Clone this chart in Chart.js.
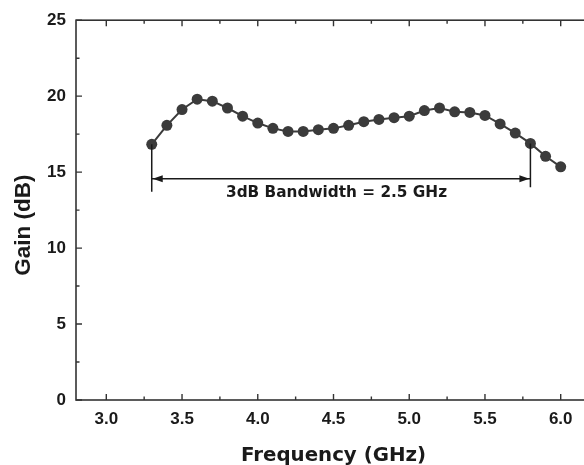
<!DOCTYPE html>
<html><head><meta charset="utf-8">
<script src="https://cdn.jsdelivr.net/npm/chart.js@4/dist/chart.umd.min.js"></script>
<style>
html,body{margin:0;padding:0;overflow:hidden;background:#fff;width:584px;height:465px}
#wrap{position:absolute;left:0;top:0;width:600px;height:475px}
canvas{display:block}
</style></head>
<body><div id="wrap"><canvas id="c" width="600" height="475"></canvas></div>
<script>
// ---- data ----
const frequencies = [3.3,3.4,3.5,3.6,3.7,3.8,3.9,4.0,4.1,4.2,4.3,4.4,4.5,4.6,4.7,4.8,4.9,5.0,5.1,5.2,5.3,5.4,5.5,5.6,5.7,5.8,5.9,6.0];
const gainDb      = [16.83,18.08,19.12,19.8,19.67,19.22,18.68,18.23,17.88,17.68,17.68,17.79,17.88,18.08,18.32,18.47,18.58,18.68,19.05,19.22,18.97,18.93,18.73,18.17,17.57,16.89,16.04,15.35];
const xTicks = [3.0,3.5,4.0,4.5,5.0,5.5,6.0];
const xMinorTicks = [3.25,3.75,4.25,4.75,5.25,5.75];
const yTicks = [0,5,10,15,20,25];
const yMinorTicks = [2.5,7.5,12.5,17.5,22.5];
const bandEdges = [3.3, 5.8];          // GHz, start / end of 3 dB band
const bandEdgePoints = [16.83, 16.89]; // gain at the band edges
const bandLineBottom = [13.7, 14.0];   // where the edge markers end
const bandArrowLevel = [14.56];
const bandLabel = ["3dB Bandwidth = 2.5 GHz"];
const bandLabelPos = [4.52, 13.6];
const xTitle = "Frequency (GHz)";
const yTitle = "Gain (dB)";

const INK = '#333333';
const TICKFONT = {family:'"Liberation Sans", Arial, sans-serif', size:17, weight:'bold'};

const framePlugin = {
  id:'frame',
  afterDatasetsDraw(chart){
    const {ctx, chartArea:a, scales:{x, y}} = chart;
    ctx.save();
    ctx.strokeStyle = INK; ctx.lineWidth = 1.6;
    ctx.strokeRect(a.left, a.top, a.right - a.left, a.bottom - a.top);
    ctx.lineWidth = 1.4;
    const major = 6, minor = 3.5;
    ctx.beginPath();
    xTicks.forEach(v=>{const p=x.getPixelForValue(v);ctx.moveTo(p,a.bottom);ctx.lineTo(p,a.bottom-major);ctx.moveTo(p,a.top);ctx.lineTo(p,a.top+major);});
    xMinorTicks.forEach(v=>{const p=x.getPixelForValue(v);ctx.moveTo(p,a.bottom);ctx.lineTo(p,a.bottom-minor);ctx.moveTo(p,a.top);ctx.lineTo(p,a.top+minor);});
    yTicks.forEach(v=>{const p=y.getPixelForValue(v);ctx.moveTo(a.left,p);ctx.lineTo(a.left+major,p);ctx.moveTo(a.right,p);ctx.lineTo(a.right-major,p);});
    yMinorTicks.forEach(v=>{const p=y.getPixelForValue(v);ctx.moveTo(a.left,p);ctx.lineTo(a.left+minor,p);ctx.moveTo(a.right,p);ctx.lineTo(a.right-minor,p);});
    ctx.stroke();

    // bandwidth annotation
    ctx.strokeStyle = '#1a1a1a'; ctx.fillStyle = '#1a1a1a'; ctx.lineWidth = 1.5;
    const x0 = x.getPixelForValue(bandEdges[0]), x1 = x.getPixelForValue(bandEdges[1]);
    const ya = y.getPixelForValue(bandArrowLevel[0]);
    ctx.beginPath();
    ctx.moveTo(x0, y.getPixelForValue(bandEdgePoints[0])); ctx.lineTo(x0, y.getPixelForValue(bandLineBottom[0]));
    ctx.moveTo(x1, y.getPixelForValue(bandEdgePoints[1])); ctx.lineTo(x1, y.getPixelForValue(bandLineBottom[1]));
    ctx.moveTo(x0, ya); ctx.lineTo(x1, ya);
    ctx.stroke();
    const ah = 10, aw = 3.5;
    ctx.beginPath();
    ctx.moveTo(x0+1, ya); ctx.lineTo(x0+1+ah, ya-aw); ctx.lineTo(x0+1+ah, ya+aw); ctx.closePath();
    ctx.moveTo(x1-1, ya); ctx.lineTo(x1-1-ah, ya-aw); ctx.lineTo(x1-1-ah, ya+aw); ctx.closePath();
    ctx.fill();
    ctx.font = 'bold 15.3px "DejaVu Sans", Verdana, sans-serif';
    ctx.textAlign = 'center'; ctx.textBaseline = 'middle';
    ctx.fillText(bandLabel[0], x.getPixelForValue(bandLabelPos[0]), y.getPixelForValue(bandLabelPos[1]));

    // y axis title
    ctx.save();
    ctx.translate(24, (a.top + a.bottom)/2 + 15);
    ctx.rotate(-Math.PI/2);
    ctx.font = 'bold 22.5px "Liberation Sans", Arial, sans-serif';
    ctx.fillText(yTitle, 0, 0);
    ctx.restore();
    ctx.restore();
  }
};

new Chart(document.getElementById('c'), {
  type:'line',
  data:{
    labels: frequencies,
    datasets:[{
      data: frequencies.map((f,i)=>({x:f, y:gainDb[i]})),
      borderColor:'#3b3b3b', borderWidth:2,
      pointRadius:5.5, pointBackgroundColor:'#3b3b3b', pointBorderWidth:0,
      tension:0
    }]
  },
  options:{
    responsive:false, animation:false, devicePixelRatio:1,
    layout:{padding:{top:17, right:9, left:0, bottom:0}},
    plugins:{legend:{display:false}, tooltip:{enabled:false}},
    scales:{
      x:{
        type:'linear', min:2.8, max:6.2,
        afterBuildTicks: s => { s.ticks = xTicks.map(v=>({value:v})); },
        afterFit: s => { s.height = 75; },
        ticks:{font:TICKFONT, color:'#1a1a1a', padding:9, maxRotation:0, autoSkip:false, callback:v=>Number(v).toFixed(1)},
        grid:{display:false, drawTicks:false},
        border:{display:false},
        title:{display:true, text:xTitle, color:'#1a1a1a', font:{family:'"DejaVu Sans", Verdana, sans-serif', size:19.8, weight:'bold'}, padding:{top:0,bottom:7}}
      },
      y:{
        type:'linear', min:0, max:25,
        afterBuildTicks: s => { s.ticks = yTicks.map(v=>({value:v})); },
        afterFit: s => { s.width = 76; },
        ticks:{font:TICKFONT, color:'#1a1a1a', padding:10},
        grid:{display:false, drawTicks:false},
        border:{display:false}
      }
    }
  },
  plugins:[framePlugin]
});
</script>
</body></html>
